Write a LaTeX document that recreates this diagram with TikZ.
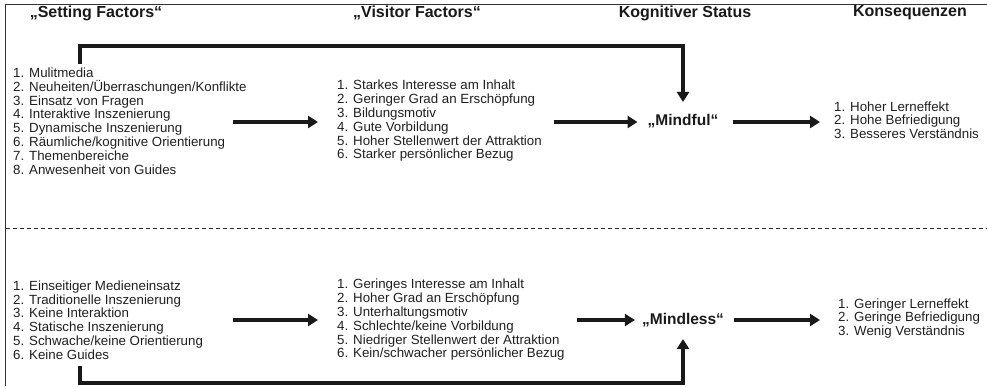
\documentclass[tikz,border=0pt]{standalone}
\usepackage{fontspec}
\setmainfont{Liberation Sans}
\usetikzlibrary{arrows.meta}
\begin{document}
\begin{tikzpicture}[x=1pt,y=-1pt,
  heading/.style={font=\fontsize{16}{19}\selectfont\bfseries, inner sep=0pt, text=black!90},
  status/.style={font=\fontsize{15.5}{18}\selectfont\bfseries, inner sep=0pt, text=black!90},
  factorlist/.style={font=\fontsize{13.3}{13.8}\selectfont, align=left, inner sep=0pt, anchor=west, text=black!88},
  resultlist/.style={factorlist, font=\fontsize{13.3}{13.3}\selectfont},
  flow/.style={line width=4pt, black!90, -{Triangle[length=10pt,width=12pt]}},
  bracket/.style={flow, line join=miter},
  frameline/.style={line width=1.8pt, black!80},
]
\useasboundingbox (0,0) rectangle (987,386);

% open frame and the separator between the two cases
\draw[frameline] (5.5,386) -- (5.5,4.5) -- (987,4.5);
\draw[line width=1pt, black!85, dash pattern=on 4pt off 3pt] (5.5,228) -- (987,228);

% column headings
\node[heading] (h1) at (96,13) {„Setting Factors“};
\node[heading] (h2) at (417,13) {„Visitor Factors“};
\node[heading] (h3) at (685,13) {Kognitiver Status};
\node[heading] (h4) at (910,13) {Konsequenzen};

% upper case: mindful
\node[factorlist] (set1) at (13,121) {1. Mulitmedia\\2. Neuheiten/Überraschungen/Konflikte\\3. Einsatz von Fragen\\4. Interaktive Inszenierung\\5. Dynamische Inszenierung\\6. Räumliche/kognitive Orientierung\\7. Themenbereiche\\8. Anwesenheit von Guides};
\node[factorlist] (vis1) at (337,121) {1. Starkes Interesse am Inhalt\\2. Geringer Grad an Erschöpfung\\3. Bildungsmotiv\\4. Gute Vorbildung\\5. Hoher Stellenwert der Attraktion\\6. Starker persönlicher Bezug};
\node[status] (mindful) at (683,121) {„Mindful“};
\node[resultlist] (kon1) at (834,120) {1. Hoher Lerneffekt\\2. Hohe Befriedigung\\3. Besseres Verständnis};

\coordinate (a1s) at (233,122);
\draw[flow, shorten >=19pt] (a1s) -- (a1s -| vis1.west);
\draw[flow, shorten <=12pt, shorten >=10pt] (vis1.east |- a1s) -- (mindful.west |- a1s);
\draw[flow, shorten <=14pt, shorten >=14pt] (mindful.east |- a1s) -- (kon1.west |- a1s);

\coordinate (c1) at (80,64);
\coordinate (topline) at (0,46);
\draw[bracket, shorten >=12pt] (c1) |- (topline -| mindful.north) -- (mindful.north);

% lower case: mindless
\node[factorlist] (set2) at (13,320) {1. Einseitiger Medieneinsatz\\2. Traditionelle Inszenierung\\3. Keine Interaktion\\4. Statische Inszenierung\\5. Schwache/keine Orientierung\\6. Keine Guides};
\node[factorlist] (vis2) at (337,320) {1. Geringes Interesse am Inhalt\\2. Hoher Grad an Erschöpfung\\3. Unterhaltungsmotiv\\4. Schlechte/keine Vorbildung\\5. Niedriger Stellenwert der Attraktion\\6. Kein/schwacher persönlicher Bezug};
\node[status] (mindless) at (683,320) {„Mindless“};
\node[resultlist] (kon2) at (838,318.5) {1. Geringer Lerneffekt\\2. Geringe Befriedigung\\3. Wenig Verständnis};

\coordinate (a2s) at (233,320);
\draw[flow, shorten >=19pt] (a2s) -- (a2s -| vis2.west);
\draw[flow, shorten <=12pt, shorten >=7pt] (vis2.east |- a2s) -- (mindless.west |- a2s);
\draw[flow, shorten <=10pt, shorten >=18pt] (mindless.east |- a2s) -- (kon2.west |- a2s);

\coordinate (c2) at (80,366);
\coordinate (bottomline) at (0,383);
\draw[bracket, shorten >=12pt] (c2) |- (bottomline -| mindless.south) -- (mindless.south);
\end{tikzpicture}
\end{document}
